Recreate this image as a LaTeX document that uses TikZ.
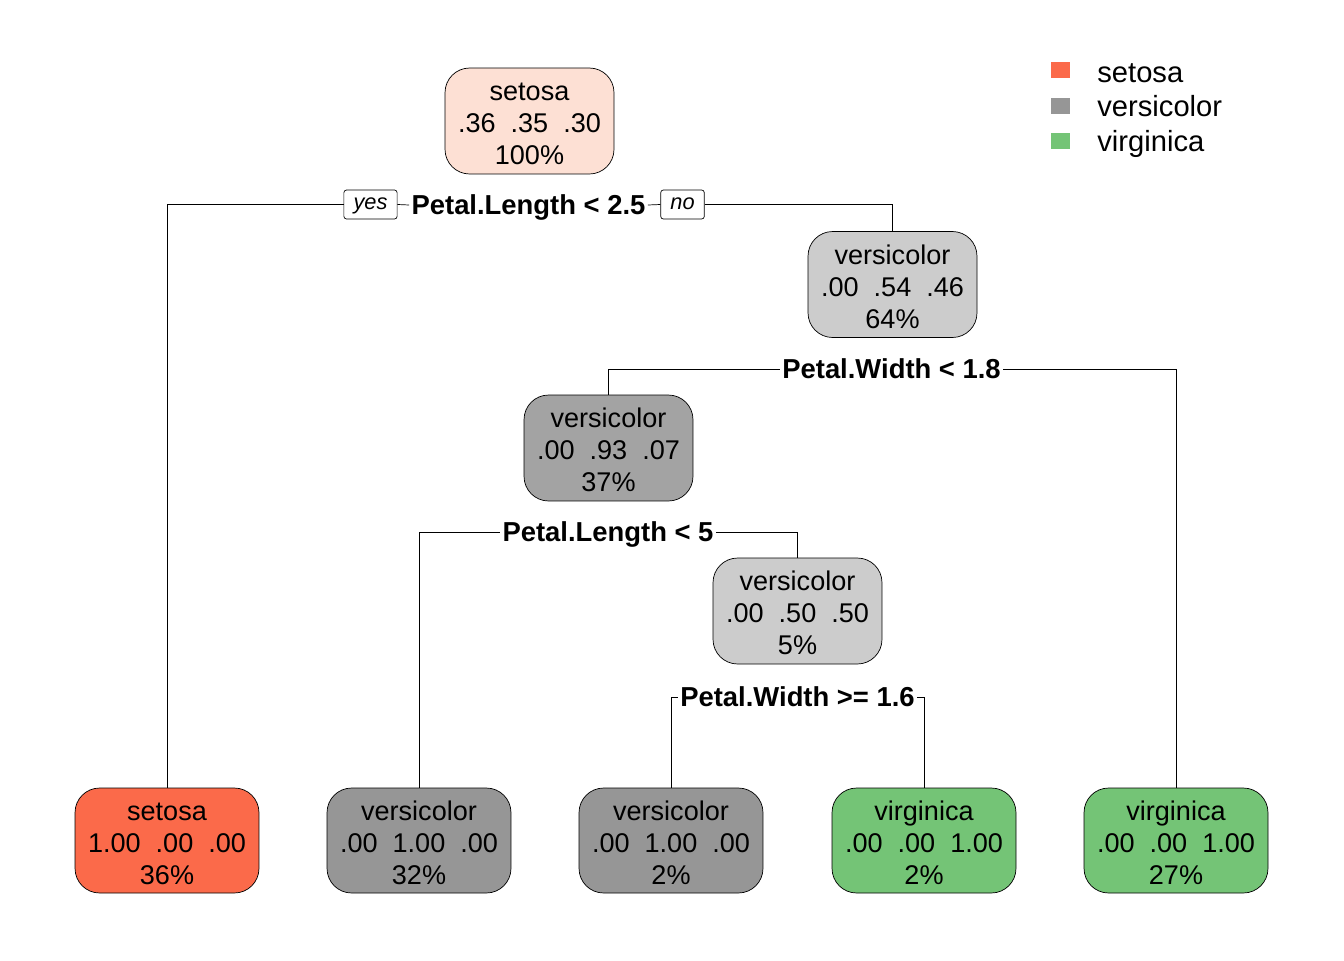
\documentclass[tikz,border=0pt]{standalone}
\usepackage{fontspec}
\setmainfont{Liberation Sans}
\usetikzlibrary{positioning}

\definecolor{setosacol}{RGB}{251,106,74}
\definecolor{rootcol}{RGB}{253,224,212}
\definecolor{lgray}{RGB}{204,204,204}
\definecolor{mgray}{RGB}{163,163,163}
\definecolor{dgray}{RGB}{150,150,150}
\definecolor{greencol}{RGB}{116,196,118}

% strut for the first line of a box
\newcommand{\firstln}{\rule{0pt}{13.5pt}}

\tikzset{
  treebox/.style={draw, rounded corners=14pt, align=center, inner sep=0pt,
    minimum width=3.38cm, minimum height=2.12cm,
    font=\fontsize{15.4}{18.2}\selectfont},
  leafbox/.style={treebox, minimum width=3.68cm, minimum height=2.1cm},
  splitlab/.style={inner sep=1.2pt, text height=13.6pt, text depth=3.3pt,
    font=\fontsize{15.6}{18}\selectfont\bfseries},
  yesno/.style={draw, rounded corners=1.5pt, inner xsep=5.5pt, minimum height=0.58cm,
    inner ysep=0pt, text height=8.6pt, text depth=2.6pt,
    font=\fontsize{12.4}{14}\selectfont\itshape},
  legsq/.style={minimum width=0.38cm, minimum height=0.32cm, inner sep=0pt},
  legtxt/.style={anchor=base west, inner sep=0pt, font=\fontsize{16.6}{19}\selectfont}
}

\begin{document}
\begin{tikzpicture}[x=0.02cm, y=-0.02cm]
 \useasboundingbox (0,0) rectangle (1344,960);

 % inner nodes
 \node [treebox, fill=rootcol] (root) at (529.5,121) {\firstln setosa\\.36\ \ .35\ \ .30\\100\%};
 \node [treebox, fill=lgray] (vers64) at (892.5,284.5) {\firstln versicolor\\.00\ \ .54\ \ .46\\64\%};
 \node [treebox, fill=mgray] (vers37) at (608.5,448) {\firstln versicolor\\.00\ \ .93\ \ .07\\37\%};
 \node [treebox, fill=lgray] (vers5) at (797.5,611) {\firstln versicolor\\.00\ \ .50\ \ .50\\5\%};

 % leaves
 \node [leafbox, fill=setosacol] (leafset) at (167,840.5) {\firstln setosa\\1.00\ \ .00\ \ .00\\36\%};
 \node [leafbox, fill=dgray] (leafvA) at (419,840.5) {\firstln versicolor\\.00\ \ 1.00\ \ .00\\32\%};
 \node [leafbox, fill=dgray] (leafvB) at (671,840.5) {\firstln versicolor\\.00\ \ 1.00\ \ .00\\2\%};
 \node [leafbox, fill=greencol] (leafgA) at (924,840.5) {\firstln virginica\\.00\ \ .00\ \ 1.00\\2\%};
 \node [leafbox, fill=greencol] (leafgB) at (1176,840.5) {\firstln virginica\\.00\ \ .00\ \ 1.00\\27\%};

 % split labels
 \node [splitlab] (splitA) at (528.5,205) {Petal.Length < 2.5};
 \node [yesno] (yes) at (370.5,204.5) {yes};
 \node [yesno] (no) at (682.5,204.5) {no};
 \node [splitlab] (splitB) at (891.5,369) {Petal.Width < 1.8};
 \node [splitlab] (splitC) at (608,532) {Petal.Length < 5};
 \node [splitlab] (splitD) at (797.5,697) {Petal.Width >= 1.6};

 % connectors
 \draw (leafset.north) |- (yes.west);
 \draw (yes.east) -- (splitA.west);
 \draw (splitA.east) -- (no.west);
 \draw (no.east) -| (vers64.north);

 \draw (vers37.north) |- (splitB.west);
 \draw (splitB.east) -| (leafgB.north);

 \draw (leafvA.north) |- (splitC.west);
 \draw (splitC.east) -| (vers5.north);

 \draw (leafvB.north) |- (splitD.west);
 \draw (splitD.east) -| (leafgA.north);

 % legend
 \node [legsq, fill=setosacol] (sqset) at (1060.5,70) {};
 \node [legsq, fill=dgray] (sqvers) at (1060.5,105.5) {};
 \node [legsq, fill=greencol] (sqvirg) at (1060.5,141) {};
 \node [legtxt] (txtset) at (1097,82.5) {setosa};
 \node [legtxt] (txtvers) at (1097,116.5) {versicolor};
 \node [legtxt] (txtvirg) at (1097,151) {virginica};
\end{tikzpicture}
\end{document}
